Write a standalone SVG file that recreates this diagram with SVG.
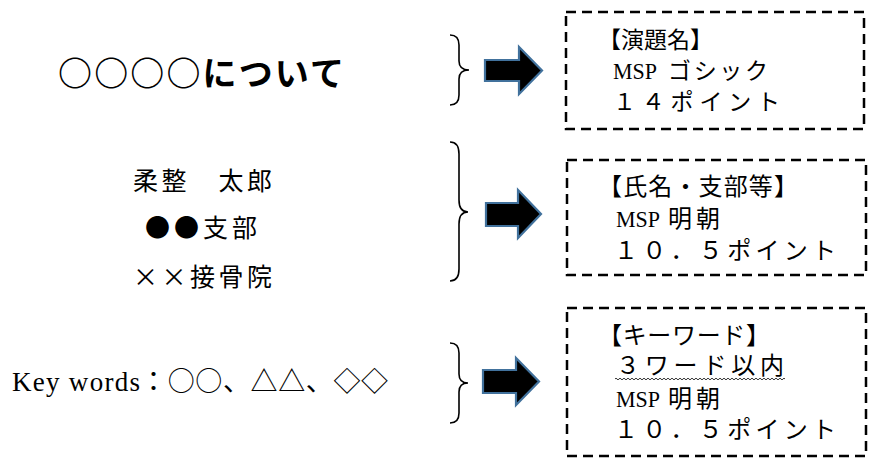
<svg xmlns="http://www.w3.org/2000/svg" width="873" height="458" viewBox="0 0 873 458">
<defs>
<style>
.box{fill:none;stroke:#000;stroke-width:2.5;stroke-dasharray:10 6}
.brace{fill:none;stroke:#000;stroke-width:1.6}
.arrow{fill:#000;stroke:#41719C;stroke-width:2.2;stroke-linejoin:miter}
.min{font-family:"Noto Sans CJK JP","Liberation Serif",serif;fill:#000}
.bx{font-family:"Liberation Serif","Noto Sans CJK JP",serif;fill:#000}
.lat{font-family:"Liberation Serif","Noto Sans CJK JP",serif}
.goth{font-family:"Noto Sans CJK JP","Noto Sans",sans-serif;font-weight:700;fill:#000}
</style>
<pattern id="wave" x="615" y="377" width="4" height="4" patternUnits="userSpaceOnUse">
<path d="M0,2 Q1,0.3 2,2 T4,2" fill="none" stroke="#000" stroke-width="0.8"/>
</pattern>
</defs>
<rect width="873" height="458" fill="#fff"/>

<g id="title">
<text class="goth" x="58" y="86" font-size="34" textLength="286" lengthAdjust="spacing">○○○○について</text>
</g>

<g id="author">
<text class="min" x="133" y="190" font-size="25" textLength="139" lengthAdjust="spacing">柔整　太郎</text>
<text class="min" x="145" y="237" font-size="25" textLength="112" lengthAdjust="spacing">●●支部</text>
<text class="min" x="133" y="286" font-size="25" textLength="139" lengthAdjust="spacing">××接骨院</text>
</g>

<g id="keywords">
<text class="min" y="391" font-size="27"><tspan class="lat" x="12" textLength="128" lengthAdjust="spacing">Key words</tspan><tspan x="140" textLength="248" lengthAdjust="spacing">：○○、△△、◇◇</tspan></text>
</g>

<g id="box-title">
<rect class="box" x="566" y="12" width="298" height="117"/>
<text class="bx" x="598" y="48" font-size="23" textLength="115" lengthAdjust="spacing">【演題名】</text>
<text class="bx" y="79" font-size="23"><tspan x="613" textLength="44" lengthAdjust="spacingAndGlyphs">MSP</tspan><tspan x="668" textLength="100" lengthAdjust="spacing">ゴシック</tspan></text>
<text class="bx" x="613" y="110" font-size="23" textLength="167" lengthAdjust="spacing">１４ポイント</text>
</g>

<g id="box-author">
<rect class="box" x="567" y="160" width="299" height="115"/>
<text class="bx" x="598" y="195" font-size="24" textLength="200" lengthAdjust="spacing">【氏名・支部等】</text>
<text class="bx" y="227" font-size="24"><tspan x="616" textLength="44" lengthAdjust="spacingAndGlyphs">MSP</tspan><tspan x="668" textLength="52" lengthAdjust="spacing">明朝</tspan></text>
<text class="bx" x="614" y="259" font-size="24" textLength="222" lengthAdjust="spacing">１０．５ポイント</text>
</g>

<g id="box-keywords">
<rect class="box" x="567" y="308" width="299" height="148"/>
<text class="bx" x="598" y="344" font-size="24" textLength="172" lengthAdjust="spacing">【キーワード】</text>
<text class="bx" x="616" y="374" font-size="24" textLength="168" lengthAdjust="spacing">３ワード以内</text>
<rect x="615" y="377" width="170" height="4" fill="url(#wave)"/>
<text class="bx" y="407" font-size="24"><tspan x="616" textLength="44" lengthAdjust="spacingAndGlyphs">MSP</tspan><tspan x="668" textLength="52" lengthAdjust="spacing">明朝</tspan></text>
<text class="bx" x="614" y="438" font-size="24" textLength="222" lengthAdjust="spacing">１０．５ポイント</text>
</g>

<g id="connectors">
<path class="brace" d="M450,35 Q459,35 459,45 L459,61 Q459,70 469,70 Q459,70 459,79 L459,95 Q459,105 450,105"/>
<path class="brace" d="M450,142 Q459,142 459,154 L459,200 Q459,212 468,212 Q459,212 459,224 L459,269 Q459,281 450,281"/>
<path class="brace" d="M450,343 Q459,343 459,353 L459,374 Q459,383 468,383 Q459,383 459,392 L459,413 Q459,423 450,423"/>
<polygon class="arrow" points="485,60 519,60 519,47 542,70.5 519,94 519,81 485,81"/>
<polygon class="arrow" points="486,203 518,203 518,190 541,214 518,238 518,226 486,226"/>
<polygon class="arrow" points="483,370 516,370 516,358 539,381.5 516,405 516,393 483,393"/>
</g>
</svg>
